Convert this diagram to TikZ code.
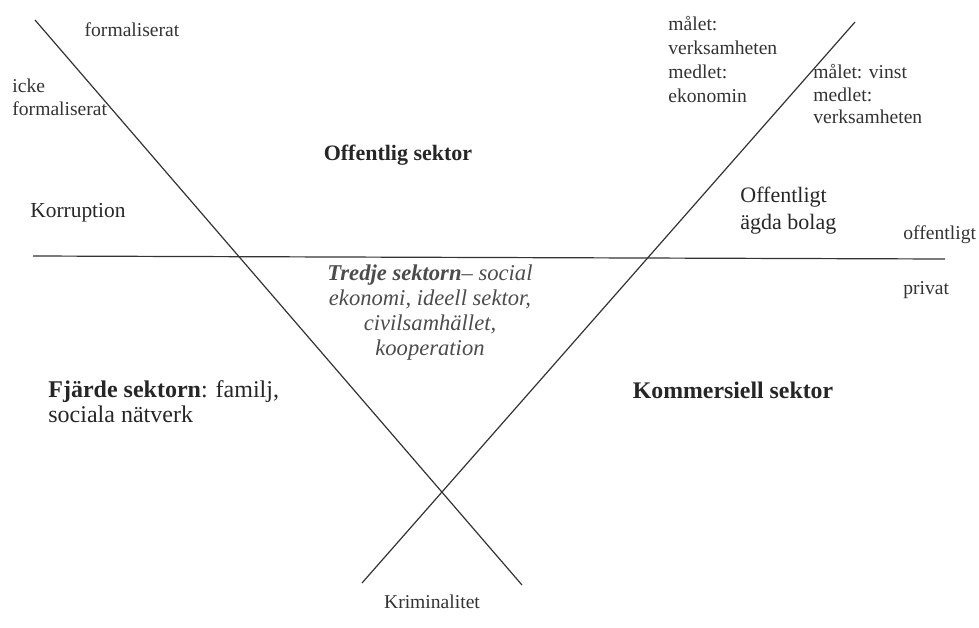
\documentclass[tikz,border=0pt]{standalone}
\usepackage{fontspec}
\setmainfont{Liberation Serif}
\usetikzlibrary{positioning}

\tikzset{
  axis/.style = {line width=0.6pt, black!80},
  lbl/.style = {inner sep=0pt, text=black!80, font=\fontsize{9.8}{11.5}\selectfont},
  leftlbl/.style = {lbl, anchor=west, align=left},
  big/.style = {inner sep=0pt, text=black!85, font=\fontsize{11}{13.5}\selectfont}
}

\begin{document}
\begin{tikzpicture}[x=0.5pt, y=-0.5pt]
\useasboundingbox (0,0) rectangle (979,627);
% the three lines
\coordinate (ltop) at (35,20);
\coordinate (lbot) at (522,585);
\coordinate (rtop) at (855,22);
\coordinate (rbot) at (362,583);
\coordinate (hl) at (33,256);
\coordinate (hr) at (945,259);
\draw[axis] (ltop) -- (lbot);
\draw[axis] (rtop) -- (rbot);
\draw[axis] (hl) -- (hr);

% upper part
\node[lbl] (form) at (132,30) {formaliserat};
\node[leftlbl] (ickeform) at (12,97) {icke\\formaliserat};
\node[leftlbl, font=\fontsize{9.8}{12}\selectfont] (maal1) at (668,59) {målet:\\verksamheten\\medlet:\\ekonomin};
\node[leftlbl, font=\fontsize{9.8}{11.3}\selectfont] (maal2) at (813,94) {målet: vinst\\medlet:\\verksamheten};
\node[big, font=\fontsize{11}{13.5}\bfseries] (offsek) at (398,155) {Offentlig sektor};
\node[big, anchor=west, font=\fontsize{10.7}{13}\selectfont] (korr) at (30,213) {Korruption};
\node[big, anchor=west, align=left] (bolag) at (740,211) {Offentligt\\ägda bolag};
\node[leftlbl] (offentl) at (903,235) {offentligt};
\node[leftlbl] (privat) at (903,290) {privat};

% lower part
\node[big, align=center, text=black!70, font=\fontsize{11.3}{12.5}\itshape] (tredje) at (430,313)
  {\textbf{Tredje sektorn}– social\\ekonomi, ideell sektor,\\civilsamhället,\\kooperation};
\node[big, anchor=west, align=left, font=\fontsize{12}{12.5}\selectfont] (fjarde) at (48,402)
  {\textbf{Fjärde sektorn}: familj,\\sociala nätverk};
\node[big, font=\fontsize{11.9}{13}\bfseries] (komm) at (733,390) {Kommersiell sektor};
\node[lbl] (krim) at (432,602) {Kriminalitet};
\end{tikzpicture}
\end{document}
